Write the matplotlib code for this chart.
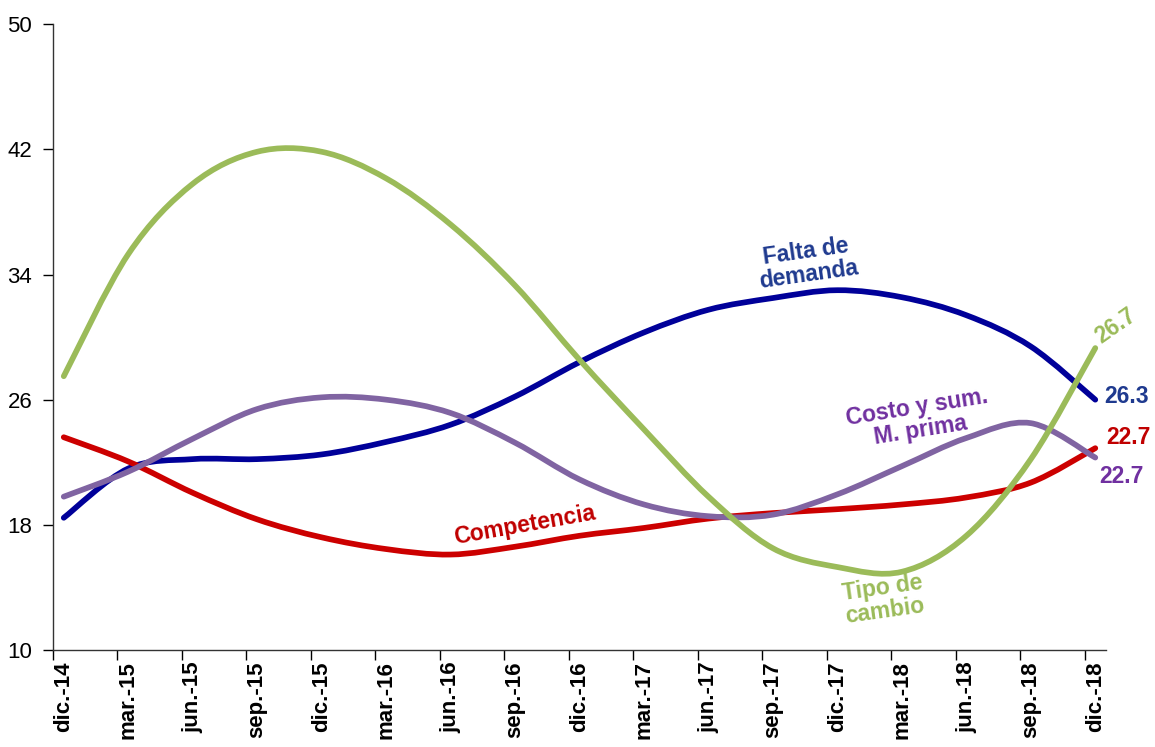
import matplotlib
matplotlib.use("Agg")
import matplotlib.pyplot as plt
from matplotlib.path import Path
from matplotlib.patches import PathPatch
import numpy as np

plt.rcParams['font.family'] = ['Liberation Sans', 'DejaVu Sans']

# quarterly observations, dic.-14 .. dic.-18
quarters = ['dic.-14', 'mar.-15', 'jun.-15', 'sep.-15', 'dic.-15', 'mar.-16', 'jun.-16',
            'sep.-16', 'dic.-16', 'mar.-17', 'jun.-17', 'sep.-17', 'dic.-17', 'mar.-18',
            'jun.-18', 'sep.-18', 'dic.-18']
months = [0, 3, 6, 9, 12, 15, 18, 21, 24, 27, 30, 33, 36, 39, 42, 45, 48]

falta_demanda = [18.45, 21.6, 22.2, 22.2, 22.5, 23.3, 24.4, 26.2, 28.4, 30.3, 31.75, 32.5,
                 33.0, 32.55, 31.4, 29.4, 26.0]
competencia = [23.6, 22.05, 20.05, 18.35, 17.2, 16.45, 16.1, 16.6, 17.3, 17.8, 18.4, 18.75,
               19.0, 19.3, 19.75, 20.7, 22.9]
costo_mprima = [19.8, 21.4, 23.5, 25.4, 26.15, 26.0, 25.15, 23.25, 20.9, 19.3, 18.55, 18.65,
                19.95, 21.75, 23.55, 24.5, 22.3]
tipo_cambio = [27.5, 35.3, 39.8, 41.85, 41.85, 40.15, 37.2, 33.3, 28.55, 24.1, 19.8, 16.5,
               15.3, 15.0, 17.3, 22.2, 29.3]

last_values = ['26.3', '22.7', '22.7', '26.7']


def smooth_path(xs, ys):
    # excel-like smoothed line: bezier segments through every point
    pts = np.column_stack([xs, ys]).astype(float)
    n = len(pts)
    verts = [pts[0]]
    codes = [Path.MOVETO]
    for i in range(n - 1):
        p0 = pts[max(i - 1, 0)]
        p1 = pts[i]
        p2 = pts[i + 1]
        p3 = pts[min(i + 2, n - 1)]
        verts += [p1 + (p2 - p0) / 6, p2 - (p3 - p1) / 6, p2]
        codes += [Path.CURVE4] * 3
    return Path(verts, codes)


fig = plt.figure(figsize=(11.55, 7.47), dpi=100)
ax = fig.add_axes([0.0459, 0.1299, 0.9117, 0.8376])

series = [(falta_demanda, '#000099'), (competencia, '#CC0000'),
          (costo_mprima, '#8064A2'), (tipo_cambio, '#9BBB59')]
for vals, col in series:
    ax.add_patch(PathPatch(smooth_path(months, vals), facecolor='none', edgecolor=col,
                           lw=4.1, capstyle='round', joinstyle='round'))

ax.set_xlim(-0.5, 48.5)
ax.set_ylim(10, 50)
ax.set_yticks([10, 18, 26, 34, 42, 50])
ax.tick_params(axis='y', labelsize=16, length=7, pad=8, direction='out', width=1)

ax.set_xticks(months)
ax.set_xticklabels(quarters, rotation=90, fontsize=16, fontweight='bold')
ax.tick_params(axis='x', which='major', length=0, pad=8)
ax.set_xticks(np.arange(-0.5, 48, 3), minor=True)
ax.tick_params(axis='x', which='minor', length=7, width=1, direction='out')

for s in ['top', 'right']:
    ax.spines[s].set_visible(False)
for s in ['left', 'bottom']:
    ax.spines[s].set_color('#333333')
    ax.spines[s].set_linewidth(1)

# series labels
fs = 16.5
ax.text(34.6, 34.75, 'Falta de\ndemanda', color='#1F3A8F', fontsize=fs, fontweight='bold',
        ha='center', va='center', rotation=8, linespacing=1.0)
ax.text(21.45, 18.0, 'Competencia', color='#C00000', fontsize=fs, fontweight='bold',
        ha='center', va='center', rotation=10)
ax.text(39.8, 24.8, 'Costo y sum.\nM. prima', color='#7030A0', fontsize=fs, fontweight='bold',
        ha='center', va='center', rotation=9, linespacing=1.0)
ax.text(38.15, 13.25, 'Tipo de\ncambio', color='#9BBB59', fontsize=fs, fontweight='bold',
        ha='center', va='center', rotation=8, linespacing=1.0)

# last values
ax.text(48.4, 26.2, last_values[0], color='#1F3A8F', fontsize=fs, fontweight='bold',
        ha='left', va='center', clip_on=False)
ax.text(48.5, 23.6, last_values[1], color='#C00000', fontsize=fs, fontweight='bold',
        ha='left', va='center', clip_on=False)
ax.text(48.2, 21.1, last_values[2], color='#7030A0', fontsize=fs, fontweight='bold',
        ha='left', va='center', clip_on=False)
ax.text(48.95, 30.7, last_values[3], color='#9BBB59', fontsize=fs, fontweight='bold',
        ha='center', va='center', rotation=35, clip_on=False)

fig.savefig('out.png', dpi=100)
